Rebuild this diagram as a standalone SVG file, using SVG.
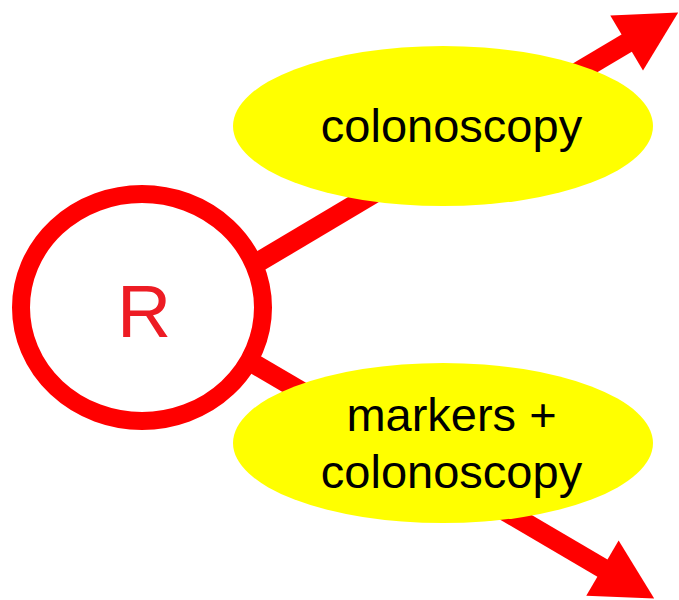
<svg xmlns="http://www.w3.org/2000/svg" width="679" height="600" viewBox="0 0 679 600">
<style>
.conn{stroke:#ff0000;stroke-width:20;fill:none;marker-end:url(#head)}
.arm{fill:#ffff00;stroke:none}
.lbl{font-family:"Liberation Sans",Arial,sans-serif;font-size:47px;fill:#000;text-anchor:middle}
</style>
<defs>
<marker id="head" markerUnits="userSpaceOnUse" markerWidth="60" markerHeight="64" viewBox="0 0 60 64" refX="1" refY="32" orient="auto" overflow="visible">
<path d="M0,0 L60,32 L0,64 Z" fill="#ff0000"/>
</marker>
</defs>
<rect width="679" height="600" fill="#ffffff"/>
<g id="connectors">
<line class="conn" x1="230" y1="279" x2="627.5" y2="42.6"/>
<line class="conn" x1="230" y1="349.7" x2="603.3" y2="568.6"/>
</g>
<g id="node-R">
<ellipse cx="142" cy="307.5" rx="121" ry="113.5" fill="#ffffff" stroke="#ff0000" stroke-width="18"/>
<text x="144" y="337" font-family="'Liberation Sans',Arial,sans-serif" font-size="75" fill="#ed1c24" text-anchor="middle">R</text>
</g>
<g id="node-colonoscopy">
<ellipse class="arm" cx="443" cy="126" rx="210" ry="80"/>
<text class="lbl" x="451.5" y="142">colonoscopy</text>
</g>
<g id="node-markers">
<ellipse class="arm" cx="443" cy="443" rx="210" ry="80"/>
<text class="lbl" x="451.5" y="431">markers +</text>
<text class="lbl" x="451.5" y="488">colonoscopy</text>
</g>
</svg>
